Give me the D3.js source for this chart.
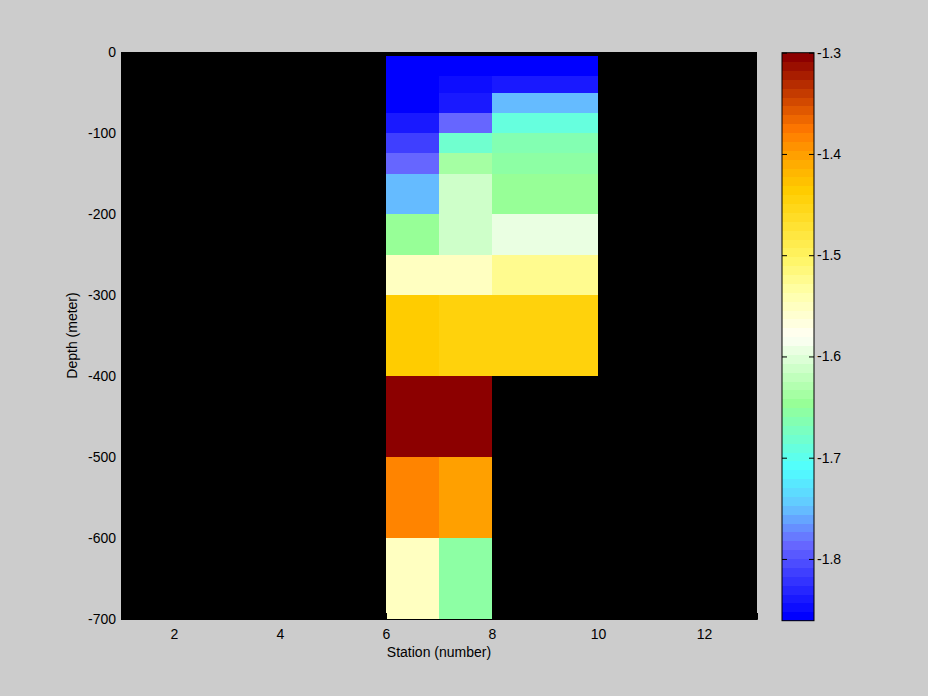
<!DOCTYPE html>
<html>
<head>
<meta charset="utf-8">
<script src="https://cdn.jsdelivr.net/npm/d3@7"></script>
<style>
  html, body { margin: 0; padding: 0; background: #cccccc; }
  svg { display: block; }
  text { font-family: "Liberation Sans", Arial, Helvetica, sans-serif; font-size: 14px; fill: #000; }
</style>
</head>
<body>
<svg id="chart" width="928" height="696"></svg>
<script>
// ---- data ----
const stationEdges = [6, 7, 8, 10];
const depthEdges = [-5, -30, -50, -75, -100, -125, -150, -200, -250, -300, -400, -500, -600, -700];
const station6 = [-1.860, -1.860, -1.860, -1.841, -1.816, -1.789, -1.749, -1.642, -1.549, -1.436, -1.305, -1.383, -1.547];
const station7 = [-1.860, -1.850, -1.841, -1.788, -1.683, -1.640, -1.611, -1.611, -1.553, -1.447, -1.305, -1.401, -1.657];
const station8 = [-1.860, -1.842, -1.755, -1.692, -1.668, -1.657, -1.642, -1.593, -1.523, -1.447, null, null, null];
const xTicks = [2, 4, 6, 8, 10, 12];
const yTicks = [0, -100, -200, -300, -400, -500, -600, -700];
const cTicks = [-1.3, -1.4, -1.5, -1.6, -1.7, -1.8];
const cLimits = [-1.861, -1.3];
const xDomain = [1, 13];
const yDomain = [-700, 0];
// colormap anchors (position 0..1, colour)
const cmapStops = [0, 0.13, 0.20, 0.265, 0.38, 0.50, 0.58, 0.64, 0.76, 0.82, 0.87, 1.0];
const cmapColors = ["#0000ff", "#6868ff", "#64c8ff", "#50ffff", "#96ff96", "#fffff5",
                    "#ffffaa", "#fff564", "#ffcd00", "#ffa500", "#ff7800", "#8c0000"];

const columns = [station6, station7, station8];

// ---- layout ----
const svg = d3.select("#chart");
const ax = {left: 121, top: 52, right: 757, bottom: 619};
const cb = {left: 782, right: 814, top: 52.7, bottom: 620.7};

const x = d3.scaleLinear().domain(xDomain).range([ax.left, ax.right]);
const y = d3.scaleLinear().domain(yDomain).range([ax.bottom, ax.top]);

const interp = d3.scaleLinear().domain(cmapStops).range(cmapColors).interpolate(d3.interpolateRgb);
const nColors = 64;
const cmap = d3.range(nColors).map(i => interp(i / (nColors - 1)));
function colorOf(v) {
  let idx = Math.floor((v - cLimits[0]) / (cLimits[1] - cLimits[0]) * nColors);
  idx = Math.max(0, Math.min(nColors - 1, idx));
  return cmap[idx];
}
const fmtInt = d => String(d);
const fmt1 = d => d.toFixed(1);

// axes background
svg.append("rect")
  .attr("x", x(xDomain[0])).attr("y", y(yDomain[1]))
  .attr("width", x(xDomain[1]) - x(xDomain[0]))
  .attr("height", y(yDomain[0]) - y(yDomain[1]))
  .attr("fill", "#000");

// cells
const cells = [];
columns.forEach((col, ci) => {
  col.forEach((v, ri) => {
    if (v === null) return;
    cells.push({x0: stationEdges[ci], x1: stationEdges[ci + 1], d0: depthEdges[ri], d1: depthEdges[ri + 1], v});
  });
});
svg.append("g").selectAll("rect").data(cells).join("rect")
  .attr("x", d => x(d.x0))
  .attr("width", d => x(d.x1) - x(d.x0))
  .attr("y", d => y(d.d0))
  .attr("height", d => y(d.d1) - y(d.d0))
  .attr("fill", d => colorOf(d.v))
  .attr("shape-rendering", "crispEdges");

// axes
const xAxis = d3.axisBottom(x).tickValues(xTicks).tickSize(-6).tickPadding(12).tickFormat(fmtInt);
const gx = svg.append("g").attr("transform", `translate(0,${ax.bottom})`).call(xAxis);
gx.select(".domain").attr("stroke", "#000");
gx.selectAll(".tick line").attr("stroke", "#000");
gx.selectAll("text").attr("font-size", 14).attr("font-family", "Liberation Sans, Arial, sans-serif").attr("dy", "0.6em");

const yAxis = d3.axisLeft(y).tickValues(yTicks).tickSize(-6).tickPadding(5).tickFormat(fmtInt);
const gy = svg.append("g").attr("transform", `translate(${ax.left},0)`).call(yAxis);
gy.select(".domain").attr("stroke", "#000");
gy.selectAll(".tick line").attr("stroke", "#000");
gy.selectAll("text").attr("font-size", 14).attr("font-family", "Liberation Sans, Arial, sans-serif");

svg.append("text")
  .attr("x", (ax.left + ax.right) / 2).attr("y", 657)
  .attr("text-anchor", "middle")
  .text("Station (number)");

svg.append("text")
  .attr("transform", `translate(77,${(ax.top + ax.bottom) / 2}) rotate(-90)`)
  .attr("text-anchor", "middle")
  .text("Depth (meter)");

// colorbar
const c = d3.scaleLinear().domain(cLimits).range([cb.bottom, cb.top]);
const step = (cLimits[1] - cLimits[0]) / nColors;
svg.append("g").selectAll("rect").data(cmap).join("rect")
  .attr("x", cb.left)
  .attr("width", cb.right - cb.left)
  .attr("y", (d, i) => c(cLimits[0] + (i + 1) * step))
  .attr("height", (d, i) => c(cLimits[0] + i * step) - c(cLimits[0] + (i + 1) * step) + 0.5)
  .attr("fill", d => d)
  .attr("shape-rendering", "crispEdges");
svg.append("rect")
  .attr("x", cb.left).attr("y", cb.top)
  .attr("width", cb.right - cb.left).attr("height", cb.bottom - cb.top)
  .attr("fill", "none").attr("stroke", "#000").attr("stroke-width", 1);

const cAxisR = d3.axisRight(c).tickValues(cTicks).tickSize(-5).tickPadding(3).tickFormat(fmt1);
const gc = svg.append("g").attr("transform", `translate(${cb.right},0)`).call(cAxisR);
gc.select(".domain").remove();
gc.selectAll(".tick line").attr("stroke", "#000");
gc.selectAll("text").attr("font-size", 14).attr("font-family", "Liberation Sans, Arial, sans-serif");
const cAxisL = d3.axisLeft(c).tickValues(cTicks).tickSize(-5).tickFormat("");
const gcl = svg.append("g").attr("transform", `translate(${cb.left},0)`).call(cAxisL);
gcl.select(".domain").remove();
gcl.selectAll(".tick line").attr("stroke", "#000");
</script>
</body>
</html>
